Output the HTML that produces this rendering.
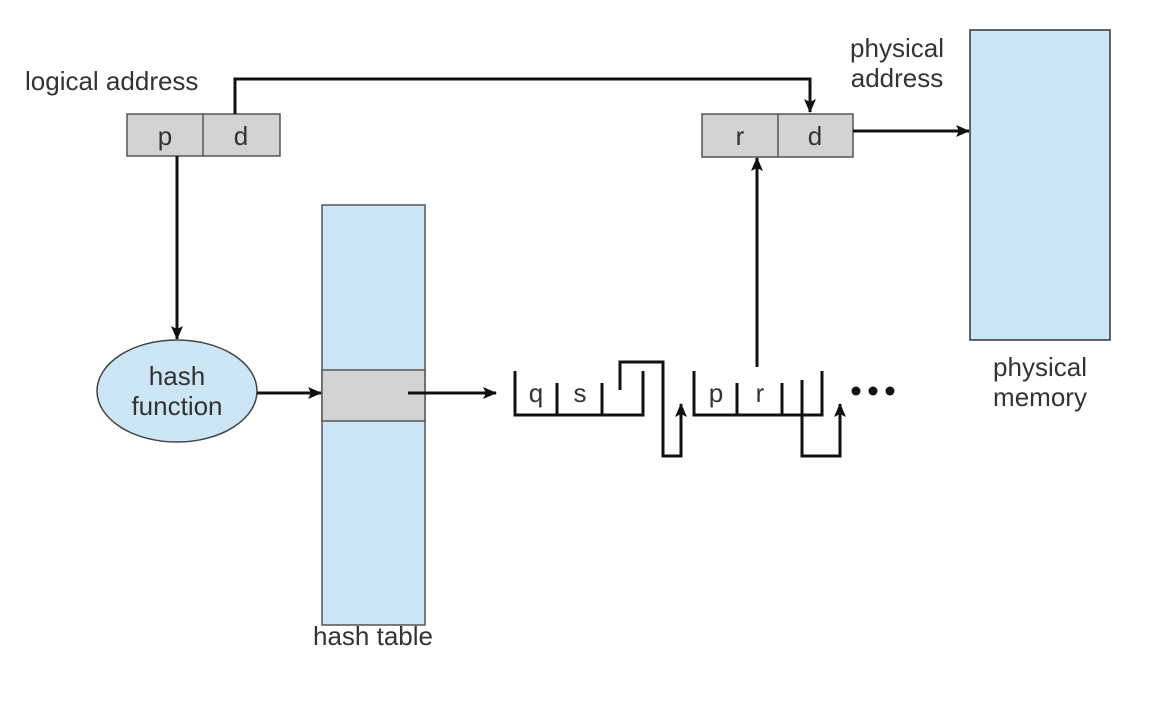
<!DOCTYPE html>
<html><head><style>body{margin:0;background:#fff}</style></head><body>
<svg width="1158" height="708" viewBox="0 0 1158 708" xmlns="http://www.w3.org/2000/svg" font-family="Liberation Sans, sans-serif" fill="#333">
<defs>
<marker id="b" markerWidth="14" markerHeight="12" refX="13" refY="6" orient="auto" markerUnits="userSpaceOnUse"><path d="M0,0 L14,6 L0,12 L3,6 Z" fill="#111"/></marker></defs>
<rect width="1158" height="708" fill="#fff"/>
<text x="25" y="90" font-size="26">logical address</text>
<rect x="127" y="114" width="153" height="42" fill="#d3d3d3" stroke="#555" stroke-width="1.5"/>
<line x1="203" y1="114" x2="203" y2="156" stroke="#555" stroke-width="1.5"/>
<text x="165" y="145" font-size="26" text-anchor="middle">p</text>
<text x="241" y="145" font-size="26" text-anchor="middle">d</text>
<polyline points="235,114 235,79 810,79 810,112" fill="none" stroke="#111" stroke-width="3" marker-end="url(#b)"/>
<text x="897" y="57" font-size="26" text-anchor="middle">physical</text>
<text x="897" y="87" font-size="26" text-anchor="middle">address</text>
<rect x="702" y="114" width="151" height="43" fill="#d3d3d3" stroke="#555" stroke-width="1.5"/>
<line x1="778" y1="114" x2="778" y2="157" stroke="#555" stroke-width="1.5"/>
<text x="740" y="145" font-size="26" text-anchor="middle">r</text>
<text x="815" y="145" font-size="26" text-anchor="middle">d</text>
<line x1="853" y1="131" x2="969" y2="131" stroke="#111" stroke-width="3" marker-end="url(#b)"/>
<rect x="970" y="30" width="140" height="310" fill="#cce6f6" stroke="#333" stroke-width="1.5"/>
<text x="1040" y="376" font-size="26" text-anchor="middle">physical</text>
<text x="1040" y="406" font-size="26" text-anchor="middle">memory</text>
<line x1="177" y1="156" x2="177" y2="339" stroke="#111" stroke-width="3" marker-end="url(#b)"/>
<ellipse cx="177" cy="391" rx="80" ry="51" fill="#cce6f6" stroke="#444" stroke-width="1.5"/>
<text x="177" y="385" font-size="26" text-anchor="middle">hash</text>
<text x="177" y="415" font-size="26" text-anchor="middle">function</text>
<rect x="322" y="205" width="103" height="420" fill="#cce6f6" stroke="#555" stroke-width="1.5"/>
<rect x="322" y="370" width="103" height="51" fill="#d3d3d3" stroke="#555" stroke-width="1.5"/>
<text x="373" y="645" font-size="26" text-anchor="middle">hash table</text>
<line x1="257" y1="393" x2="321" y2="393" stroke="#111" stroke-width="3" marker-end="url(#b)"/>
<line x1="408" y1="393" x2="496" y2="393" stroke="#111" stroke-width="3" marker-end="url(#b)"/>
<g fill="none" stroke="#111" stroke-width="3">
<polyline points="515,371 515,415 643,415 643,371"/>
<line x1="557" y1="383" x2="557" y2="415"/><line x1="602" y1="383" x2="602" y2="415"/>
<polyline points="620,390 620,362 663,362 663,456 681,456 681,404" marker-end="url(#b)"/>
<polyline points="694,371 694,415 822,415 822,371"/>
<line x1="737" y1="383" x2="737" y2="415"/><line x1="782" y1="383" x2="782" y2="415"/>
<polyline points="802,380 802,456 840,456 840,404" marker-end="url(#b)"/>
<line x1="757" y1="367" x2="757" y2="158" marker-end="url(#b)"/>
</g>
<text x="536" y="402" font-size="26" text-anchor="middle">q</text>
<text x="580" y="402" font-size="26" text-anchor="middle">s</text>
<text x="716" y="402" font-size="26" text-anchor="middle">p</text>
<text x="760" y="402" font-size="26" text-anchor="middle">r</text>
<circle cx="856" cy="391" r="4.5" fill="#111"/><circle cx="873" cy="391" r="4.5" fill="#111"/><circle cx="890" cy="391" r="4.5" fill="#111"/>
</svg>
</body></html>
